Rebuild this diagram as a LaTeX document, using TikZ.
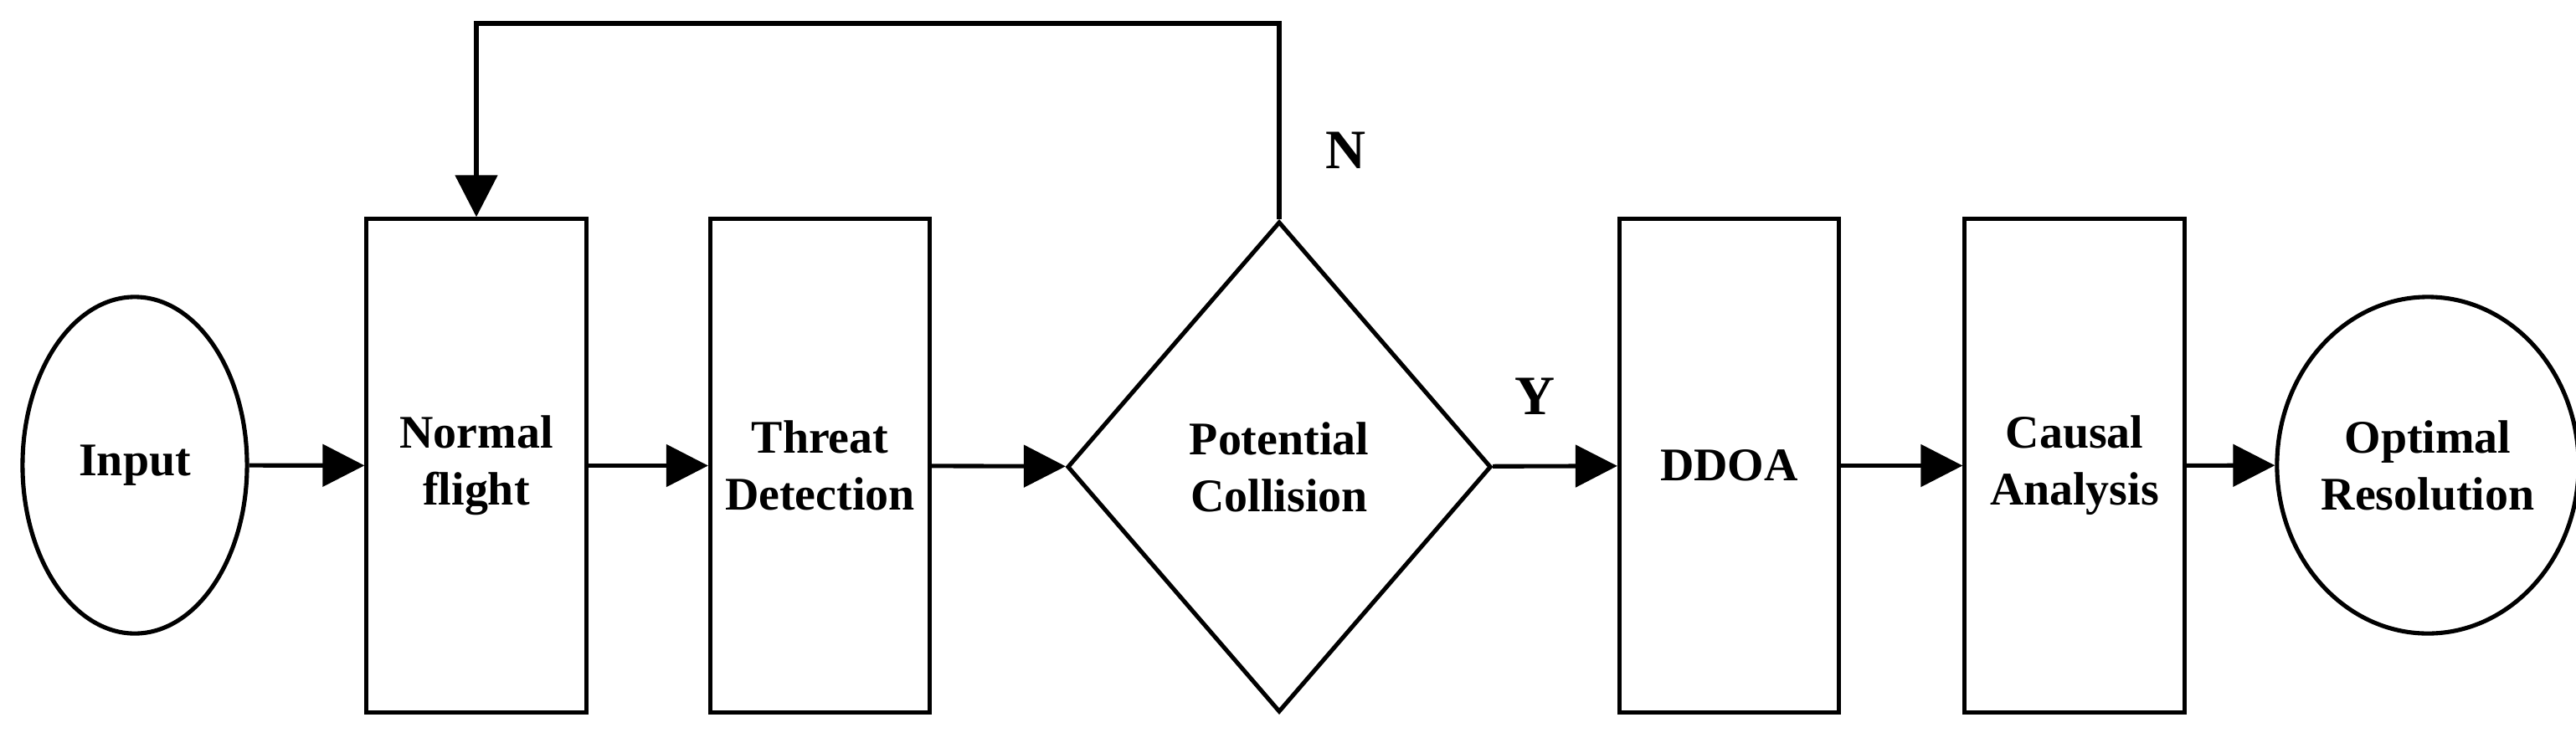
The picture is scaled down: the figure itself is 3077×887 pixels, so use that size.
\documentclass[tikz,border=0pt]{standalone}
\usepackage{fontspec}
\setmainfont{Liberation Serif}
\usetikzlibrary{shapes.geometric,arrows.meta}
\begin{document}
\begin{tikzpicture}[x=0.01cm,y=-0.01cm,
  every node/.style={font=\bfseries\fontsize{15.9}{19.3}\selectfont, align=center, inner sep=0pt},
  box/.style={draw, line width=1.45pt, rectangle, minimum width=2.62cm, minimum height=5.89cm},
  oval/.style={draw, line width=1.45pt, ellipse, minimum height=4.02cm},
  decision/.style={draw, line width=1.45pt, diamond, minimum width=5.06cm, minimum height=5.86cm},
  flow/.style={line width=1.45pt, -{Triangle[length=0.5cm, width=0.5cm]}},
  lbl/.style={font=\bfseries\fontsize{18.9}{22}\selectfont}]
\useasboundingbox (0,0) rectangle (3077,887);
\node[oval, minimum width=2.68cm] (input) at (161,556) {Input};
\node[box] (normal) at (569,556.5) {Normal\\flight};
\node[box] (threat) at (979.5,556.5) {Threat\\Detection};
\node[decision] (coll) at (1528,558) {Potential\\Collision};
\node[box] (ddoa) at (2065.5,556.5) {DDOA};
\node[box] (causal) at (2478,556.5) {Causal\\Analysis};
\node[oval, minimum width=3.07cm] (opt) at (2900,556) {Optimal\\Resolution};
\coordinate (top) at (1528,28);
\draw[flow] (input) -- (normal);
\draw[flow] (normal) -- (threat);
\draw[flow] (threat) -- (coll);
\draw[flow] (coll) -- (ddoa);
\draw[flow] (ddoa) -- (causal);
\draw[flow] (causal) -- (opt);
\draw[flow] (coll.north) -- (top) -| (normal.north);
\node[lbl] (n) at (1607,180) {N};
\node[lbl] (y) at (1833,474) {Y};
\end{tikzpicture}
\end{document}
